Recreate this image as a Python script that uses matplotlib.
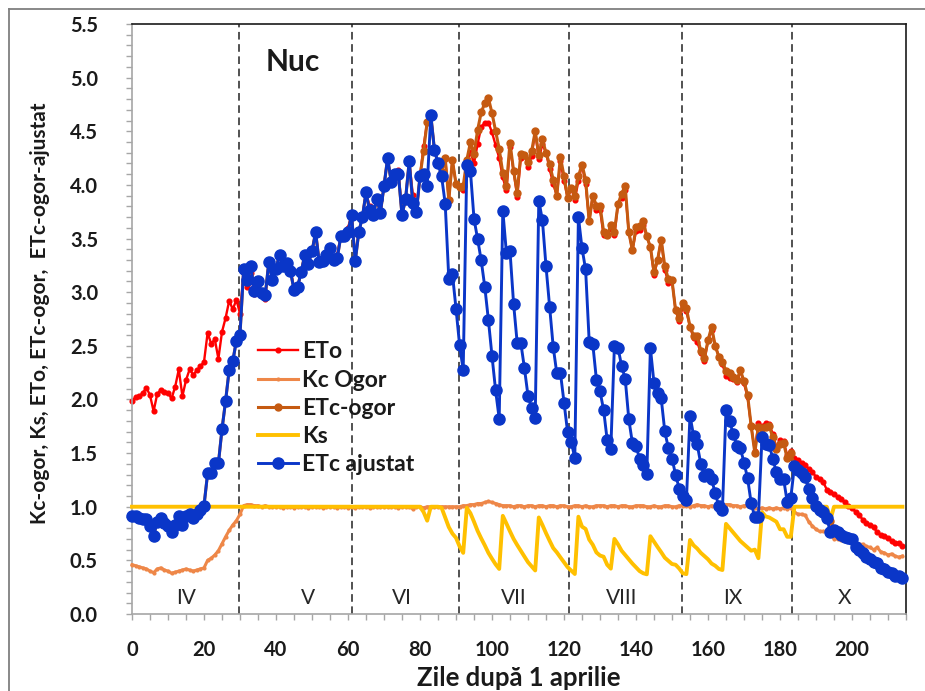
import numpy as np
import matplotlib
matplotlib.use("Agg")
import matplotlib.pyplot as plt
from matplotlib.lines import Line2D
from matplotlib.ticker import MultipleLocator, FormatStrFormatter

plt.rcParams['font.family'] = ['Lato', 'DejaVu Sans']

# Daily reference evapotranspiration (mm/day), day 0 = 1 April
eto = [
    1.99, 2.02, 2.03, 2.06, 2.11, 2.04, 1.89, 2.05, 2.09, 2.07,
    2.06, 2.01, 2.12, 2.28, 2.03, 2.18, 2.28, 2.23, 2.27, 2.31,
    2.35, 2.62, 2.52, 2.56, 2.38, 2.63, 2.76, 2.92, 2.84, 2.93,
    2.80, 3.18, 3.05, 3.18, 2.98, 3.07, 2.99, 2.94, 3.28, 3.11,
    3.22, 3.35, 3.28, 3.27, 3.20, 3.05, 3.05, 3.19, 3.35, 3.30,
    3.38, 3.56, 3.28, 3.32, 3.35, 3.41, 3.30, 3.35, 3.52, 3.52,
    3.60, 3.72, 3.32, 3.56, 3.70, 3.93, 3.80, 3.72, 3.87, 3.74,
    3.99, 4.25, 4.03, 4.10, 4.14, 3.72, 3.87, 4.22, 3.91, 3.75,
    4.08, 4.36, 4.59, 4.65, 4.33, 4.20, 4.12, 4.25, 3.86, 4.23,
    4.01, 3.98, 3.95, 4.19, 4.31, 4.20, 4.38, 4.54, 4.58, 4.58,
    4.49, 4.37, 4.25, 4.07, 3.95, 4.35, 4.13, 3.89, 4.25, 4.28,
    4.17, 4.27, 4.50, 4.24, 4.38, 4.30, 4.15, 4.01, 3.90, 4.22,
    4.04, 3.88, 3.97, 3.86, 4.04, 4.19, 4.01, 3.66, 3.90, 3.77,
    3.77, 3.53, 3.53, 3.59, 3.53, 3.82, 3.88, 3.95, 3.56, 3.39,
    3.57, 3.58, 3.63, 3.52, 3.42, 3.16, 3.30, 3.49, 3.21, 3.09,
    3.11, 2.83, 2.73, 2.87, 2.82, 2.68, 2.57, 2.54, 2.43, 2.36,
    2.55, 2.65, 2.50, 2.40, 2.33, 2.22, 2.20, 2.19, 2.16, 2.27,
    2.15, 2.02, 1.75, 1.52, 1.78, 1.75, 1.78, 1.77, 1.68, 1.55,
    1.62, 1.61, 1.48, 1.52, 1.45, 1.44, 1.41, 1.39, 1.35, 1.32,
    1.28, 1.26, 1.23, 1.16, 1.14, 1.12, 1.09, 1.07, 1.04, 1.01,
    0.99, 0.95, 0.92, 0.88, 0.85, 0.83, 0.81, 0.76, 0.74, 0.73,
    0.71, 0.68, 0.66, 0.66, 0.63,
]

# Crop coefficient of the bare (fallow) soil
kc_ogor = [
    0.46, 0.45, 0.44, 0.43, 0.42, 0.40, 0.385, 0.42, 0.43, 0.41,
    0.40, 0.38, 0.39, 0.40, 0.41, 0.42, 0.41, 0.40, 0.41, 0.42,
    0.43, 0.50, 0.52, 0.55, 0.59, 0.655, 0.72, 0.78, 0.83, 0.87,
    0.93, 1.01, 1.02, 1.02, 1.01, 1.01, 1.00, 1.01, 1.00, 1.00,
    1.00, 1.00, 0.99, 1.00, 1.00, 0.99, 1.00, 1.00, 1.00, 0.99,
    1.00, 1.00, 1.00, 0.99, 1.00, 1.00, 1.00, 0.99, 1.00, 1.00,
    0.99, 1.00, 0.99, 1.00, 1.00, 1.00, 0.99, 1.00, 1.00, 1.00,
    1.00, 1.00, 1.00, 1.00, 0.99, 1.00, 1.00, 1.00, 0.98, 1.00,
    1.00, 0.99, 1.00, 1.00, 1.00, 1.00, 1.00, 1.00, 1.00, 1.00,
    1.00, 1.00, 1.01, 1.01, 1.02, 1.02, 1.03, 1.03, 1.04, 1.05,
    1.04, 1.03, 1.02, 1.01, 1.01, 1.01, 1.00, 1.01, 1.01, 1.00,
    1.01, 1.01, 1.00, 1.01, 1.01, 1.00, 1.01, 1.01, 1.00, 1.01,
    1.01, 1.00, 1.00, 1.01, 1.01, 1.00, 1.01, 1.00, 1.00, 1.01,
    1.01, 1.01, 1.00, 1.01, 1.01, 1.00, 1.01, 1.01, 1.00, 1.00,
    1.01, 1.01, 1.01, 1.00, 1.00, 1.01, 1.00, 1.00, 1.01, 1.01,
    1.00, 1.00, 1.01, 1.01, 1.01, 1.00, 1.01, 1.02, 1.01, 1.01,
    1.00, 1.01, 1.00, 1.00, 1.01, 1.02, 1.02, 1.01, 1.01, 1.00,
    1.01, 1.01, 1.00, 0.99, 0.98, 0.99, 0.98, 0.99, 0.98, 0.99,
    0.98, 0.99, 0.98, 0.99, 0.95, 0.93, 0.93, 0.92, 0.86, 0.82,
    0.79, 0.77, 0.77, 0.77, 0.76, 0.70, 0.70, 0.69, 0.69, 0.70,
    0.71, 0.66, 0.65, 0.65, 0.63, 0.62, 0.60, 0.62, 0.58, 0.57,
    0.55, 0.56, 0.54, 0.53, 0.54,
]

# Water stress coefficient
ks = [
    1.00, 1.00, 1.00, 1.00, 1.00, 1.00, 1.00, 1.00, 1.00, 1.00,
    1.00, 1.00, 1.00, 1.00, 1.00, 1.00, 1.00, 1.00, 1.00, 1.00,
    1.00, 1.00, 1.00, 1.00, 1.00, 1.00, 1.00, 1.00, 1.00, 1.00,
    1.00, 1.00, 1.00, 1.00, 1.00, 1.00, 1.00, 1.00, 1.00, 1.00,
    1.00, 1.00, 1.00, 1.00, 1.00, 1.00, 1.00, 1.00, 1.00, 1.00,
    1.00, 1.00, 1.00, 1.00, 1.00, 1.00, 1.00, 1.00, 1.00, 1.00,
    1.00, 1.00, 1.00, 1.00, 1.00, 1.00, 1.00, 1.00, 1.00, 1.00,
    1.00, 1.00, 1.00, 1.00, 1.00, 1.00, 1.00, 1.00, 1.00, 1.00,
    1.00, 0.95, 0.87, 1.00, 1.00, 1.00, 0.99, 0.90, 0.81, 0.75,
    0.71, 0.63, 0.57, 0.99, 0.94, 0.86, 0.775, 0.705, 0.64, 0.57,
    0.515, 0.463, 0.42, 0.915, 0.844, 0.77, 0.70, 0.643, 0.589, 0.536,
    0.483, 0.445, 0.406, 0.90, 0.83, 0.754, 0.683, 0.615, 0.575, 0.528,
    0.483, 0.437, 0.405, 0.373, 0.907, 0.814, 0.793, 0.694, 0.645, 0.574,
    0.545, 0.534, 0.459, 0.423, 0.70, 0.65, 0.59, 0.55, 0.51, 0.47,
    0.435, 0.40, 0.38, 0.37, 0.725, 0.674, 0.624, 0.576, 0.525, 0.495,
    0.466, 0.459, 0.424, 0.379, 0.372, 0.69, 0.64, 0.61, 0.57, 0.54,
    0.51, 0.47, 0.45, 0.42, 0.41, 0.84, 0.80, 0.76, 0.72, 0.68,
    0.65, 0.62, 0.59, 0.60, 0.52, 0.95, 0.91, 0.90, 0.88, 0.86,
    0.79, 0.79, 0.72, 0.72, 1.00, 1.00, 1.00, 1.00, 1.00, 1.00,
    1.00, 1.00, 1.00, 1.00, 0.88, 1.00, 1.00, 1.00, 1.00, 1.00,
    1.00, 1.00, 1.00, 1.00, 1.00, 1.00, 1.00, 1.00, 1.00, 1.00,
    1.00, 1.00, 1.00, 1.00, 1.00,
]

days = np.arange(len(eto))
# ETc of the fallow soil and the stress-adjusted ETc
etc_ogor = np.array(kc_ogor) * np.array(eto)
etc_ajustat = np.array(ks) * etc_ogor

month_bounds = [29.6, 61.0, 90.9, 121.3, 152.8, 183.2]
month_names = ["IV", "V", "VI", "VII", "VIII", "IX", "X"]
month_label_x = [15, 49, 75, 106, 136, 167, 198]

fig = plt.figure(figsize=(9.25, 6.91), dpi=100)
ax = fig.add_axes([132 / 925, 1 - 614 / 691, 774 / 925, 590 / 691])

for b in month_bounds:
    ax.axvline(b, color='#222222', lw=1.1, ls=(0, (5, 3)), zorder=1)

ax.plot(days, eto, color='#FF0000', lw=1.7, marker='o', ms=3.4,
        label='ETo', zorder=2, clip_on=False)
ax.plot(days, kc_ogor, color='#EE8748', lw=2.2, marker='o', ms=2.0,
        label='Kc Ogor', zorder=3, clip_on=False)
ax.plot(days, etc_ogor, color='#C55A11', lw=2.2, marker='o', ms=5.0,
        label='ETc-ogor', zorder=4, clip_on=False)
ax.plot(days, ks, color='#FFC000', lw=2.8, label='Ks', zorder=5,
        clip_on=False)
ax.plot(days, etc_ajustat, color='#0A36C8', lw=2.1, marker='o', ms=8.0,
        label='ETc ajustat', zorder=6, clip_on=False)

ax.set_xlim(0, 215)
ax.set_ylim(0, 5.5)
ax.xaxis.set_major_locator(MultipleLocator(20))
ax.xaxis.set_minor_locator(MultipleLocator(5))
ax.yaxis.set_major_locator(MultipleLocator(0.5))
ax.yaxis.set_minor_locator(MultipleLocator(0.1))
ax.yaxis.set_major_formatter(FormatStrFormatter('%.1f'))

ax.tick_params(axis='both', which='both', direction='out', color='#A6A6A6',
               width=1.0)
ax.tick_params(axis='both', which='major', length=4.5, labelsize=14.5,
               labelcolor='#1a1a1a')
ax.tick_params(axis='both', which='minor', length=4)
ax.tick_params(axis='y', which='major', pad=20)
ax.tick_params(axis='x', which='major', pad=14)
for lbl in ax.get_xticklabels() + ax.get_yticklabels():
    lbl.set_fontweight('bold')

for side in ('left', 'bottom'):
    ax.spines[side].set_color('#A6A6A6')
    ax.spines[side].set_linewidth(1.2)
for side in ('top', 'right'):
    ax.spines[side].set_color('#1a1a1a')
    ax.spines[side].set_linewidth(1.2)

ax.set_ylabel('Kc-ogor, Ks, ETo, ETc-ogor,  ETc-ogor-ajustat', fontsize=15,
              fontweight='bold', color='#1a1a1a')
ax.yaxis.set_label_coords(-0.119, 0.51)
ax.set_xlabel('Zile după 1 aprilie', fontsize=18.5, fontweight='bold',
              color='#1a1a1a')
ax.xaxis.set_label_coords(0.5, -0.108)
ax.xaxis.label.set_va('center')
ax.yaxis.label.set_va('center')

for name, xm in zip(month_names, month_label_x):
    ax.text(xm, 0.15, name, ha='center', va='center', fontsize=15,
            color='#262626')

ax.text(37, 5.15, 'Nuc', ha='left', va='center', fontsize=21.5,
        fontweight='bold', color='#1a1a1a')

leg = ax.legend(loc='upper left', bbox_to_anchor=(0.163, 0.462),
                frameon=False, prop={'weight': 'bold', 'size': 16.5},
                handlelength=1.75, handletextpad=0.15, labelspacing=0.31,
                borderpad=0, borderaxespad=0, numpoints=1)
for t in leg.get_texts():
    t.set_color('#1a1a1a')

# outer chart frame
fig.add_artist(Line2D([9 / 925, 9 / 925], [0, 1 - 9 / 691],
                      transform=fig.transFigure, color='#7f7f7f', lw=1.3))
fig.add_artist(Line2D([9 / 925, 1], [1 - 9 / 691, 1 - 9 / 691],
                      transform=fig.transFigure, color='#7f7f7f', lw=1.3))

fig.savefig('out.png', dpi=100)
